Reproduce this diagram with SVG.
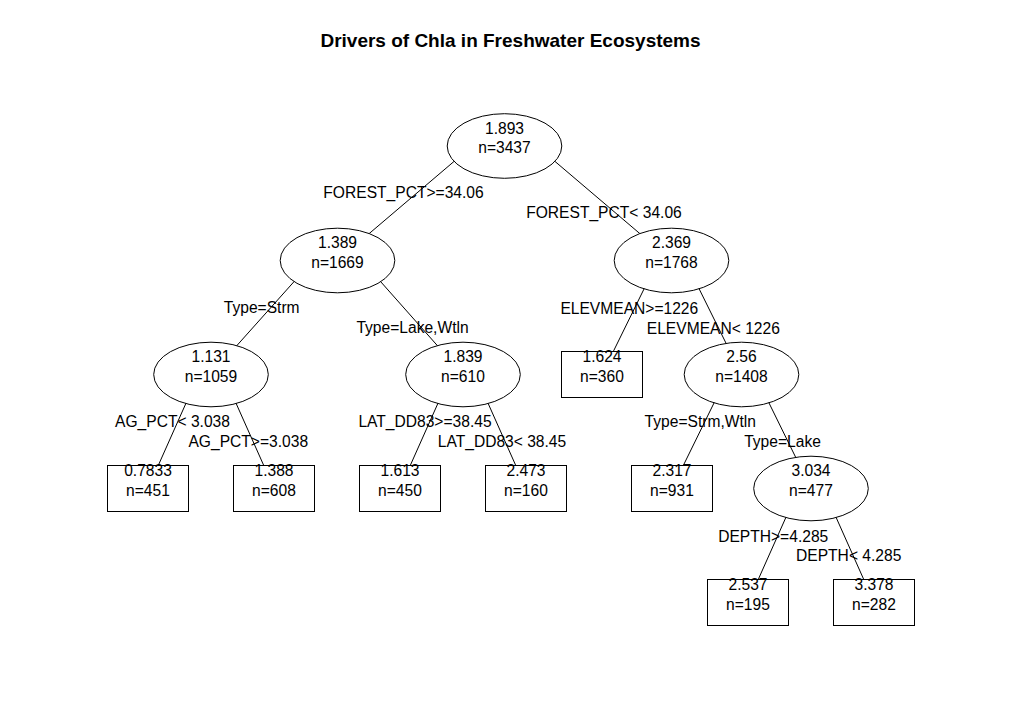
<svg xmlns="http://www.w3.org/2000/svg" width="1022" height="711" viewBox="0 0 1022 711">
<style>
text{font-family:"Liberation Sans",Arial,sans-serif;font-size:15.6px;fill:#000}
.t{text-anchor:middle}
.title{font-size:19px;font-weight:bold}
.e,.b{fill:#fff;stroke:#000;stroke-width:1}
.c line{stroke:#000;stroke-width:1}
</style>
<rect width="1022" height="711" fill="#fff"/>
<text class="title t" x="510.5" y="46.5">Drivers of Chla in Freshwater Ecosystems</text>
<g id="connectors" class="c">
<line x1="504.5" y1="118.5" x2="337.5" y2="260.5"/>
<line x1="504.5" y1="118.5" x2="671.5" y2="260.5"/>
<line x1="337.5" y1="233" x2="211" y2="374.5"/>
<line x1="337.5" y1="233" x2="463" y2="374.5"/>
<line x1="671.5" y1="233" x2="602" y2="374.5"/>
<line x1="671.5" y1="233" x2="741.5" y2="374.5"/>
<line x1="211" y1="347" x2="148" y2="488.5"/>
<line x1="211" y1="347" x2="274" y2="488.5"/>
<line x1="463" y1="347" x2="400" y2="488.5"/>
<line x1="463" y1="347" x2="526" y2="488.5"/>
<line x1="741.5" y1="347" x2="672" y2="488.5"/>
<line x1="741.5" y1="347" x2="811" y2="488.5"/>
<line x1="811" y1="461" x2="748" y2="602.5"/>
<line x1="811" y1="461" x2="874" y2="602.5"/>
</g>
<g id="n1"><ellipse class="e" cx="504.5" cy="146" rx="57.3" ry="32.3"/><text class="t" x="504.5" y="133.5">1.893</text><text class="t" x="504.5" y="153.3">n=3437</text></g>
<g id="n2"><ellipse class="e" cx="337.5" cy="260.5" rx="57.3" ry="32.3"/><text class="t" x="337.5" y="248">1.389</text><text class="t" x="337.5" y="267.8">n=1669</text></g>
<g id="n3"><ellipse class="e" cx="671.5" cy="260.5" rx="57.3" ry="32.3"/><text class="t" x="671.5" y="248">2.369</text><text class="t" x="671.5" y="267.8">n=1768</text></g>
<g id="n4"><ellipse class="e" cx="211" cy="374.5" rx="57.3" ry="32.3"/><text class="t" x="211" y="362">1.131</text><text class="t" x="211" y="381.8">n=1059</text></g>
<g id="n5"><ellipse class="e" cx="463" cy="374.5" rx="57.3" ry="32.3"/><text class="t" x="463" y="362">1.839</text><text class="t" x="463" y="381.8">n=610</text></g>
<g id="n6"><rect class="b" x="561.5" y="351.5" width="81" height="46"/><text class="t" x="602" y="362">1.624</text><text class="t" x="602" y="381.8">n=360</text></g>
<g id="n7"><ellipse class="e" cx="741.5" cy="374.5" rx="57.3" ry="32.3"/><text class="t" x="741.5" y="362">2.56</text><text class="t" x="741.5" y="381.8">n=1408</text></g>
<g id="n8"><rect class="b" x="107.5" y="465.5" width="81" height="46"/><text class="t" x="148" y="476.3">0.7833</text><text class="t" x="148" y="495.8">n=451</text></g>
<g id="n9"><rect class="b" x="233.5" y="465.5" width="81" height="46"/><text class="t" x="274" y="476.3">1.388</text><text class="t" x="274" y="495.8">n=608</text></g>
<g id="n10"><rect class="b" x="359.5" y="465.5" width="81" height="46"/><text class="t" x="400" y="476.3">1.613</text><text class="t" x="400" y="495.8">n=450</text></g>
<g id="n11"><rect class="b" x="485.5" y="465.5" width="81" height="46"/><text class="t" x="526" y="476.3">2.473</text><text class="t" x="526" y="495.8">n=160</text></g>
<g id="n12"><rect class="b" x="631.5" y="465.5" width="81" height="46"/><text class="t" x="672" y="476.3">2.317</text><text class="t" x="672" y="495.8">n=931</text></g>
<g id="n13"><ellipse class="e" cx="811" cy="488.5" rx="57.3" ry="32.3"/><text class="t" x="811" y="476.3">3.034</text><text class="t" x="811" y="495.8">n=477</text></g>
<g id="n14"><rect class="b" x="707.5" y="579.5" width="81" height="46"/><text class="t" x="748" y="590.2">2.537</text><text class="t" x="748" y="609.8">n=195</text></g>
<g id="n15"><rect class="b" x="833.5" y="579.5" width="81" height="46"/><text class="t" x="874" y="590.2">3.378</text><text class="t" x="874" y="609.8">n=282</text></g>
<g id="labels">
<text class="t" x="403.5" y="197.7">FOREST_PCT&gt;=34.06</text>
<text class="t" x="604" y="217.7">FOREST_PCT&lt; 34.06</text>
<text class="t" x="261.7" y="313">Type=Strm</text>
<text class="t" x="412.5" y="333">Type=Lake,Wtln</text>
<text class="t" x="629.3" y="313.5">ELEVMEAN&gt;=1226</text>
<text class="t" x="713.3" y="333.5">ELEVMEAN&lt; 1226</text>
<text class="t" x="172.5" y="427">AG_PCT&lt; 3.038</text>
<text class="t" x="248.3" y="447">AG_PCT&gt;=3.038</text>
<text class="t" x="425" y="427">LAT_DD83&gt;=38.45</text>
<text class="t" x="502" y="447">LAT_DD83&lt; 38.45</text>
<text class="t" x="700.3" y="427">Type=Strm,Wtln</text>
<text class="t" x="782.5" y="447">Type=Lake</text>
<text class="t" x="773.2" y="541.5">DEPTH&gt;=4.285</text>
<text class="t" x="848.7" y="561">DEPTH&lt; 4.285</text>
</g>
</svg>
